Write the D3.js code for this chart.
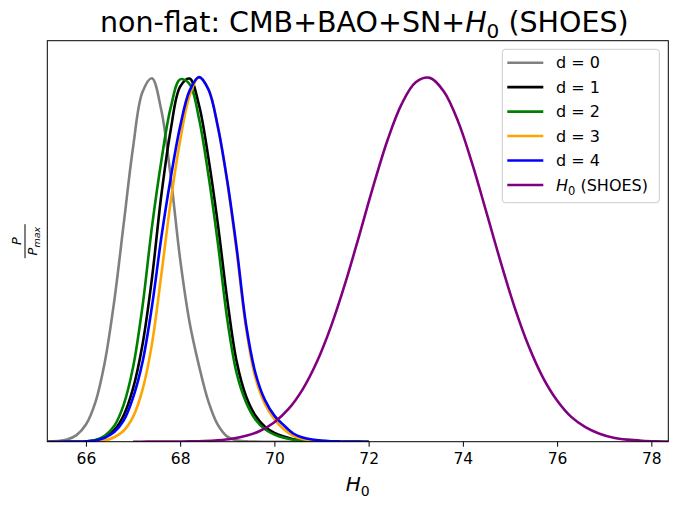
<!DOCTYPE html>
<html>
<head>
<meta charset="utf-8">
<script src="https://cdn.jsdelivr.net/npm/d3@7"></script>
<style>
  body { margin: 0; background: #fff; }
  svg { font-family: "DejaVu Sans", sans-serif; }
</style>
</head>
<body>
<div id="chart"></div>
<script>
// H0 grid shared by the d = 0..4 curves
const h0Grid = [65.2, 65.4, 65.6, 65.8, 66.0, 66.2, 66.4, 66.6, 66.8, 67.0, 67.2, 67.4,
    67.6, 67.8, 68.0, 68.2, 68.4, 68.6, 68.8, 69.0, 69.2, 69.4, 69.6, 69.8, 70.0,
    70.2, 70.4, 70.6, 70.8, 71.0, 71.2, 71.4, 71.6, 71.8, 72.0];

// P / Pmax
const d0 = [0.0005, 0.0017, 0.006, 0.018, 0.047, 0.108, 0.218, 0.385, 0.596, 0.807, 0.959, 0.997,
    0.909, 0.726, 0.500, 0.327, 0.208, 0.110, 0.046, 0.014, 0.004, 0.001, 0.0002, 0, 0,
    0, 0, 0, 0, 0, 0, 0, 0, 0, 0];
const d1 = [0, 0, 0.0001, 0.0003, 0.001, 0.004, 0.014, 0.032, 0.072, 0.146, 0.266, 0.447,
    0.676, 0.856, 0.974, 0.996, 0.923, 0.778, 0.597, 0.389, 0.219, 0.124, 0.071, 0.041, 0.024,
    0.014, 0.0067, 0.0033, 0.0015, 0.0006, 0.0002, 0, 0, 0, 0];
const d2 = [0, 0, 0, 0.0002, 0.001, 0.0047, 0.0164, 0.043, 0.101, 0.204, 0.371, 0.588,
    0.770, 0.917, 0.994, 0.981, 0.886, 0.731, 0.545, 0.335, 0.187, 0.1075, 0.060, 0.034, 0.0195,
    0.0106, 0.0052, 0.0026, 0.001, 0.0005, 0.0002, 0, 0, 0, 0];
const d3v = [0, 0, 0, 0, 0.0002, 0.0008, 0.0034, 0.0123, 0.030, 0.068, 0.142, 0.267,
    0.458, 0.660, 0.826, 0.949, 1.0, 0.968, 0.863, 0.710, 0.52, 0.31, 0.174, 0.103, 0.062,
    0.034, 0.016, 0.0073, 0.0033, 0.0014, 0.0006, 0.0002, 0, 0, 0];
const d4 = [0, 0, 0.0001, 0.0003, 0.001, 0.0034, 0.011, 0.0264, 0.0577, 0.121, 0.218, 0.37,
    0.56, 0.724, 0.865, 0.963, 1.0, 0.966, 0.864, 0.715, 0.53, 0.32, 0.187, 0.114, 0.0716,
    0.045, 0.0225, 0.0114, 0.0058, 0.0029, 0.0014, 0.0007, 0.0003, 0.0001, 0];

// SHOES curve has its own grid
const shoesGrid = [67.0, 67.3, 67.6, 67.9, 68.2, 68.5, 68.8, 69.1, 69.4, 69.7, 70.0, 70.3,
    70.6, 70.9, 71.2, 71.5, 71.8, 72.1, 72.4, 72.7, 73.0, 73.3, 73.6, 73.9, 74.2, 74.5,
    74.8, 75.1, 75.4, 75.7, 76.0, 76.3, 76.6, 76.9, 77.2, 77.5, 77.8, 78.1, 78.4];
const shoes = [0, 0.0001, 0.0001, 0.0003, 0.0008, 0.0018, 0.004, 0.0082, 0.0162, 0.0301, 0.0533, 0.0898,
    0.1437, 0.2185, 0.3156, 0.4334, 0.5655, 0.7015, 0.827, 0.926, 0.986, 0.998, 0.960, 0.878, 0.762, 0.629,
    0.494, 0.368, 0.261, 0.176, 0.113, 0.068, 0.040, 0.022, 0.011, 0.0056, 0.0027, 0.0012, 0.0005];

const seriesLabels = ["d = 0", "d = 1", "d = 2", "d = 3", "d = 4"];
const xTicks = [66, 68, 70, 72, 74, 76, 78];

const width = 678, height = 506;
const plot = {left: 47.3, right: 668.3, top: 40.7, bottom: 441.7};

const x = d3.scaleLinear().domain([65.18, 78.36]).range([plot.left, plot.right]);
const y = d3.scaleLinear().domain([0, 1.1]).range([plot.bottom, plot.top]);

const svg = d3.select("#chart")
    .append("svg")
    .attr("width", width)
    .attr("height", height);

svg.append("clipPath")
    .attr("id", "plot-clip")
    .append("rect")
    .attr("x", plot.left)
    .attr("y", plot.top)
    .attr("width", plot.right - plot.left)
    .attr("height", plot.bottom - plot.top);

const series = [
    {xs: h0Grid, ys: d0, color: "#808080"},
    {xs: h0Grid, ys: d1, color: "#000000"},
    {xs: h0Grid, ys: d2, color: "#008000"},
    {xs: h0Grid, ys: d3v, color: "#ffa500"},
    {xs: h0Grid, ys: d4, color: "#0000ff"},
    {xs: shoesGrid, ys: shoes, color: "#800080"}
];

const line = d3.line()
    .x(d => x(d[0]))
    .y(d => y(d[1]))
    .curve(d3.curveCatmullRom.alpha(0.5));

svg.append("g")
    .attr("clip-path", "url(#plot-clip)")
    .selectAll("path")
    .data(series)
    .enter()
    .append("path")
    .attr("d", s => line(s.xs.map((v, i) => [v, s.ys[i]])))
    .attr("fill", "none")
    .attr("stroke", s => s.color)
    .attr("stroke-width", 2.6)
    .attr("stroke-linejoin", "round");

// x axis
const xAxis = svg.append("g")
    .attr("transform", "translate(0," + plot.bottom + ")")
    .call(d3.axisBottom(x).tickValues(xTicks).tickSize(5).tickPadding(6).tickFormat(d3.format("d")));
xAxis.select(".domain").remove();
xAxis.selectAll(".tick line").attr("stroke", "#000").attr("stroke-width", 1);
xAxis.selectAll(".tick text")
    .attr("fill", "#000")
    .style("font-family", "DejaVu Sans")
    .style("font-size", "15.5px");

// frame
svg.append("rect")
    .attr("x", plot.left)
    .attr("y", plot.top)
    .attr("width", plot.right - plot.left)
    .attr("height", plot.bottom - plot.top)
    .attr("fill", "none")
    .attr("stroke", "#000")
    .attr("stroke-width", 1);

const midX = (plot.left + plot.right) / 2;

// title
const title = svg.append("text")
    .attr("x", 100)
    .attr("y", 32)
    .attr("text-anchor", "start")
    .style("font-size", "28.5px");
title.append("tspan").text("non-flat: CMB+BAO+SN+");
title.append("tspan").style("font-style", "italic").text("H");
title.append("tspan").attr("dy", 6).style("font-size", "20px").text("0");
title.append("tspan").attr("dy", -6).text(" (SHOES)");

// x label
const xLabel = svg.append("text")
    .attr("x", midX)
    .attr("y", 491)
    .attr("text-anchor", "middle")
    .style("font-size", "20px");
xLabel.append("tspan").style("font-style", "italic").text("H");
xLabel.append("tspan").attr("dy", 5).style("font-size", "14px").text("0");

// y label: P / P_max
const yLabel = svg.append("g")
    .attr("transform", "translate(25," + ((plot.top + plot.bottom) / 2) + ") rotate(-90)");
yLabel.append("line")
    .attr("x1", -17).attr("x2", 17)
    .attr("y1", 0).attr("y2", 0)
    .attr("stroke", "#000")
    .attr("stroke-width", 1);
yLabel.append("text")
    .attr("x", 0).attr("y", -4)
    .attr("text-anchor", "middle")
    .style("font-size", "13px")
    .style("font-style", "italic")
    .text("P");
const den = yLabel.append("text")
    .attr("x", 0).attr("y", 12)
    .attr("text-anchor", "middle")
    .style("font-size", "13px")
    .style("font-style", "italic");
den.append("tspan").text("P");
den.append("tspan").attr("dy", 3).style("font-size", "9.5px").text("max");

// legend
const legend = svg.append("g");
legend.append("rect")
    .attr("x", 502.3)
    .attr("y", 49.3)
    .attr("width", 157)
    .attr("height", 153.4)
    .attr("rx", 3)
    .attr("fill", "#fff")
    .attr("fill-opacity", 0.8)
    .attr("stroke", "#cccccc")
    .attr("stroke-width", 1);

const rows = legend.selectAll(".row")
    .data(series)
    .enter()
    .append("g")
    .attr("class", "row")
    .attr("transform", (d, i) => "translate(0," + (62.7 + i * 24.45) + ")");

rows.append("line")
    .attr("x1", 507.3).attr("x2", 543.3)
    .attr("stroke", d => d.color)
    .attr("stroke-width", 2.6);

rows.append("text")
    .attr("x", 556)
    .attr("dy", "0.36em")
    .style("font-size", "16px")
    .each(function (d, i) {
        const t = d3.select(this);
        if (i < seriesLabels.length) {
            t.text(seriesLabels[i]);
        } else {
            t.append("tspan").style("font-style", "italic").text("H");
            t.append("tspan").attr("dy", 4).style("font-size", "11.5px").text("0");
            t.append("tspan").attr("dy", -4).text(" (SHOES)");
        }
    });
</script>
</body>
</html>
